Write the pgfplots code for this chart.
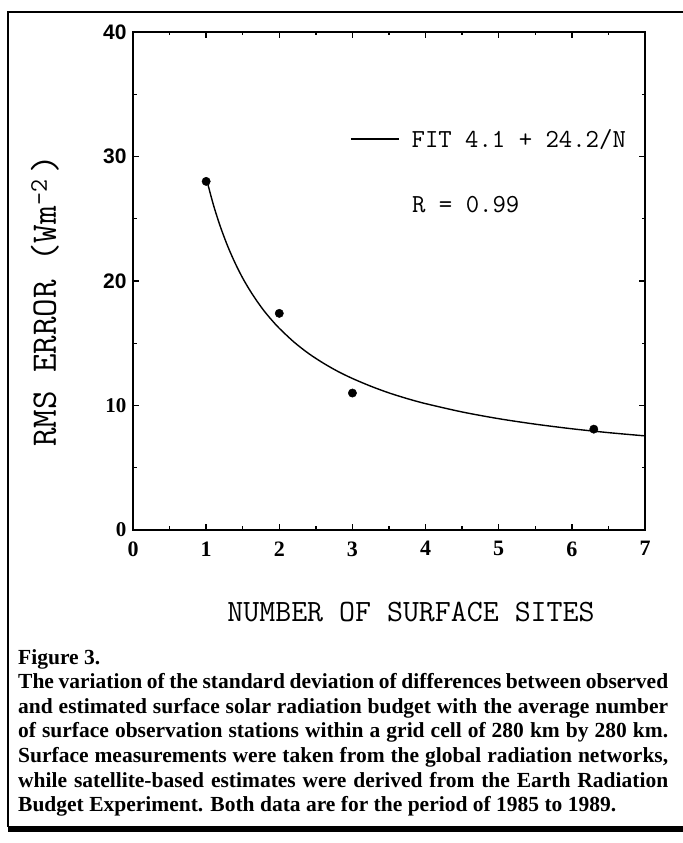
\documentclass[border=0pt]{standalone}
\usepackage{fontspec}
\setmainfont{Liberation Serif}
\setsansfont{Liberation Sans}
\usepackage{pgfplots}
\pgfplotsset{compat=1.18}

\pgfplotstableread{
n    rms
1.0  28.0
2.0  17.4
3.0  11.0
6.3  8.1
}\obsdata

% fit 4.1 + 24.2/N, values written out
\pgfplotstableread{
n     fit
1.0   28.30
1.1   26.10
1.2   24.27
1.3   22.72
1.4   21.39
1.5   20.23
1.6   19.23
1.7   18.34
1.8   17.54
1.9   16.84
2.0   16.20
2.2   15.10
2.4   14.18
2.6   13.41
2.8   12.74
3.0   12.17
3.25  11.55
3.5   11.01
3.75  10.55
4.0   10.15
4.5   9.48
5.0   8.94
5.5   8.50
6.0   8.13
6.5   7.82
7.0   7.56
}\fitdata

\begin{document}
\begin{tikzpicture}[x=1bp,y=1bp]
    \useasboundingbox (0,0) rectangle (683,843);
    % frame round the figure
    \draw[line width=1.3bp] (683,831) -- (8,831) -- (8,16);
    \fill[black] (8,11) rectangle (683,17);

    \begin{axis}[
        at={(133bp,313bp)},
        anchor=south west,
        scale only axis,
        width=512bp,
        height=498bp,
        xmin=0, xmax=7,
        ymin=0, ymax=40,
        xtick={0,1,...,7},
        xticklabels={0,1,2,3,4,5,6,7},
        ytick={0,10,20,30,40},
        yticklabels={{\rmfamily 0},{\rmfamily 10},{\sffamily 20},{\sffamily 30},{\sffamily 40}},
        minor x tick num=1,
        minor y tick num=1,
        tick align=inside,
        major tick length=6bp,
        minor tick length=3.5bp,
        axis line style={line width=1.5bp},
        every tick/.style={line width=1.3bp, black},
        xticklabel style={font=\bfseries\fontsize{22bp}{22bp}\selectfont, yshift=-8bp},
        yticklabel style={font=\bfseries\fontsize{21bp}{21bp}\selectfont, xshift=-3bp},
        xlabel={NUMBER OF SURFACE SITES},
        ylabel={RMS ERROR (Wm\textsuperscript{-2}\,)},
        xlabel style={font=\ttfamily\fontsize{31bp}{31bp}\selectfont,
            at={(axis description cs:0.543,-0.165)}, anchor=center},
        ylabel style={font=\ttfamily\fontsize{36bp}{36bp}\selectfont,
            at={(axis description cs:-0.172,0.46)}, anchor=center},
        legend style={draw=none, fill=none, inner sep=0pt,
            at={(rel axis cs:0.424,0.785)}, anchor=west,
            font=\ttfamily\fontsize{26bp}{26bp}\selectfont,
            cells={anchor=west}},
        legend image code/.code={\draw[#1] (0bp,0bp) -- (48bp,0bp);},
    ]
    \addplot[line width=1.4bp, black, smooth] table[x=n, y=fit] {\fitdata};
    \addlegendentry{\hspace{10bp}FIT 4.1 + 24.2/N}
    \addplot[only marks, mark=*, mark size=4.2bp, black, forget plot]
        table[x=n, y=rms] {\obsdata};
    \node[anchor=west, inner sep=0pt, font=\ttfamily\fontsize{26bp}{26bp}\selectfont]
        at (axis cs:3.815,26.1) {R = 0.99};
    \end{axis}

    \node[anchor=north west, inner sep=0pt, align=left,
          font=\bfseries\fontsize{21.5bp}{24.6bp}\selectfont] at (18,194) {%
        Figure 3.\\
        \makebox[650bp][s]{The variation of the standard deviation of differences between observed}\\
        \makebox[650bp][s]{and estimated surface solar radiation budget with the average number}\\
        \makebox[650bp][s]{of surface observation stations within a grid cell of 280 km by 280 km.}\\
        \makebox[650bp][s]{Surface measurements were taken from the global radiation networks,}\\
        \makebox[650bp][s]{while satellite-based estimates were derived from the Earth Radiation}\\
        Budget Experiment. Both data are for the period of 1985 to 1989.};
\end{tikzpicture}
\end{document}
